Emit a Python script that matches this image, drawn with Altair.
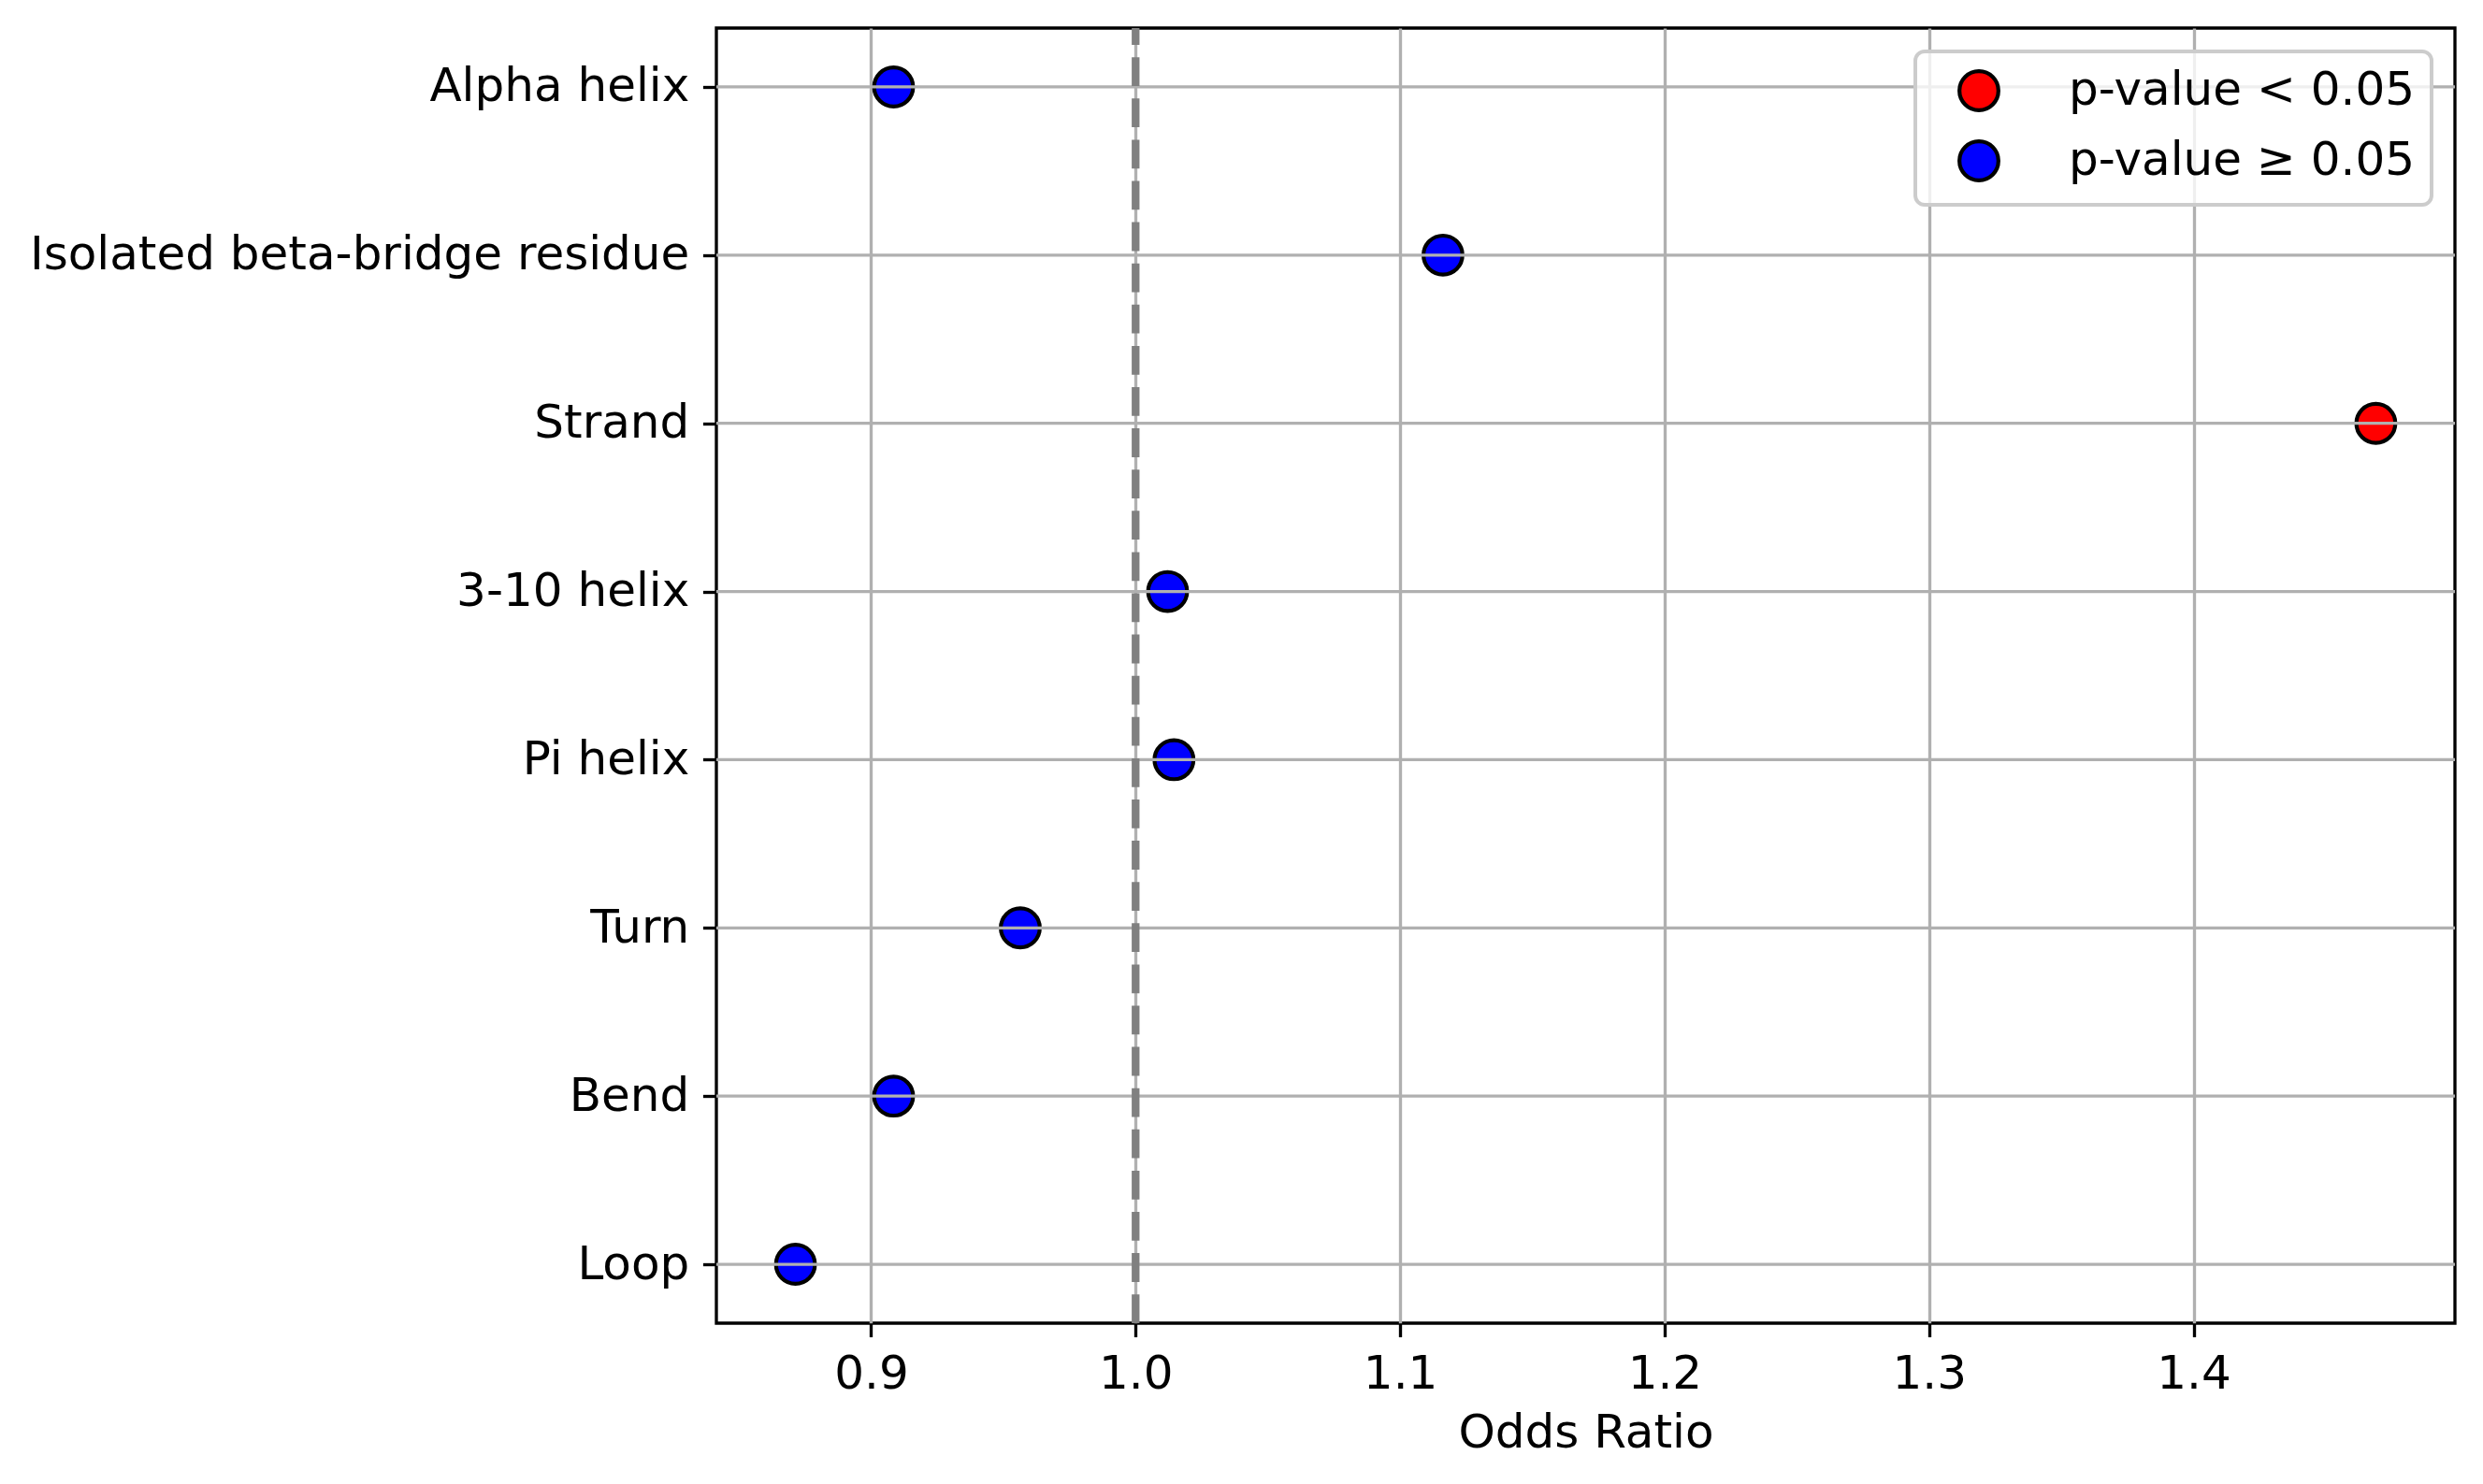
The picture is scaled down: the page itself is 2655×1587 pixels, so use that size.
import altair as alt
import pandas as pd

categories = ["Alpha helix", "Isolated beta-bridge residue", "Strand", "3-10 helix",
              "Pi helix", "Turn", "Bend", "Loop"]
odds_ratio = [0.9085, 1.1162, 1.4689, 1.0121, 1.0145, 0.9564, 0.9085, 0.8714]
significance = ["p-value ≥ 0.05", "p-value ≥ 0.05", "p-value < 0.05", "p-value ≥ 0.05",
                "p-value ≥ 0.05", "p-value ≥ 0.05", "p-value ≥ 0.05", "p-value ≥ 0.05"]
legend_labels = ["p-value < 0.05", "p-value ≥ 0.05"]
legend_colors = ["#ff0000", "#0000ff"]
x_ticks = [0.9, 1.0, 1.1, 1.2, 1.3, 1.4]
x_domain = [0.8415, 1.4988]
reference_line = [1.0]

W, H = 1859, 1385
FONT = "DejaVu Sans"
MARKER = 1736

df = pd.DataFrame({"category": categories, "odds": odds_ratio, "sig": significance})
ref = pd.DataFrame({"odds": reference_line})
grid_df = pd.DataFrame({"category": categories})

y_scale = alt.Scale(type="point", padding=0.35, domain=categories)
x_scale = alt.Scale(domain=x_domain, nice=False, zero=False)
x_axis = alt.Axis(title="Odds Ratio", values=x_ticks, format=".1f", grid=True,
                  gridColor="#b0b0b0", gridWidth=3.33, zindex=0)
y_axis = alt.Axis(title=None, grid=False)

points = alt.Chart(df).mark_circle(size=MARKER, opacity=1, stroke="black", strokeWidth=4.2).encode(
    x=alt.X("odds:Q", scale=x_scale, axis=x_axis),
    y=alt.Y("category:N", scale=y_scale, axis=y_axis),
    color=alt.Color(
        "sig:N",
        scale=alt.Scale(domain=legend_labels, range=legend_colors),
        legend=alt.Legend(
            title=None, orient="top-right", offset=25, padding=17,
            fillColor="rgba(255,255,255,0.8)", strokeColor="#cccccc", cornerRadius=10,
            labelFontSize=50, labelFont=FONT, labelColor="black", labelLimit=2000,
            symbolType="circle", symbolSize=MARKER, symbolStrokeColor="black",
            symbolStrokeWidth=4.2, symbolOpacity=1, rowPadding=15,
            symbolOffset=26, labelOffset=71,
        ),
    ),
)

hgrid = alt.Chart(grid_df).mark_rule(color="#b0b0b0", strokeWidth=3.33).encode(
    y=alt.Y("category:N", scale=y_scale, axis=y_axis),
    x=alt.value(0),
    x2=alt.value(W),
)

vline = alt.Chart(ref).mark_rule(color="#808080", strokeWidth=8.33, strokeDash=[30.8, 13.3]).encode(
    x=alt.X("odds:Q", scale=x_scale, axis=x_axis),
    y=alt.value(H),
    y2=alt.value(0),
)

chart = (
    alt.layer(points, hgrid, vline)
    .properties(width=W, height=H, padding={"left": 23, "top": 17, "right": 20, "bottom": 20})
    .configure_view(stroke="black", strokeWidth=3.33)
    .configure_axis(
        domain=False, tickSize=14.6, tickWidth=3.33, tickColor="black",
        labelPadding=14.6, labelFontSize=50, labelFont=FONT, labelColor="black",
        labelLimit=2000, titleFontSize=50, titleFont=FONT, titleFontWeight="normal",
        titleColor="black", titlePadding=13,
    )
    .configure_legend(strokeWidth=4)
)

chart.save("out.html", embed_options={"renderer": "svg", "actions": False})
